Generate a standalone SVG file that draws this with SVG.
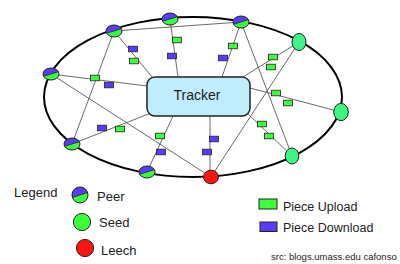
<svg xmlns="http://www.w3.org/2000/svg" xmlns:xlink="http://www.w3.org/1999/xlink" width="400" height="264" viewBox="0 0 400 264">
<style>
text{font-family:"Liberation Sans",Arial,sans-serif;fill:#222}
.ln{stroke:#444;stroke-width:0.8;fill:none}
.ring{fill:none;stroke:#000;stroke-width:2}
.up{fill:#3cff3c;stroke:#222;stroke-width:0.8}
.dn{fill:#5a3cff;stroke:#222;stroke-width:0.8}
.seed{fill:#3cf584;stroke:#222;stroke-width:1}
.leech{fill:#ff1414;stroke:#222;stroke-width:1}
.nd{stroke:#222;stroke-width:1}
</style>
<defs>
<g id="peer">
<ellipse rx="8" ry="6" fill="#3cff3c"/>
<path d="M-7.4 2.3 A8 6 0 0 1 7.4 -2.3 Z" fill="#5a3cff"/>
<line x1="-7.4" y1="2.3" x2="7.4" y2="-2.3" stroke="#222" stroke-width="0.8"/>
<ellipse rx="8" ry="6" fill="none" stroke="#222" stroke-width="1"/>
</g>
<g id="peerL">
<circle r="8" fill="#3cff3c"/>
<path d="M-7.6 2.5 A8 8 0 0 1 7.6 -2.5 Z" fill="#5a3cff"/>
<line x1="-7.6" y1="2.5" x2="7.6" y2="-2.5" stroke="#222" stroke-width="0.8"/>
<circle r="8" fill="none" stroke="#222" stroke-width="1"/>
</g>
<rect id="pc" x="-4.5" y="-2.8" width="9" height="5.6"/>
</defs>
<rect width="400" height="264" fill="#fff"/>
<ellipse class="ring" cx="193" cy="97" rx="149" ry="80"/>
<g id="connectors">
<line class="ln" x1="114" y1="31" x2="241" y2="22"/>
<line class="ln" x1="114" y1="31" x2="153" y2="78"/>
<line class="ln" x1="114" y1="31" x2="72" y2="144"/>
<line class="ln" x1="170" y1="19" x2="178" y2="77"/>
<line class="ln" x1="241" y1="22" x2="222" y2="77"/>
<line class="ln" x1="241" y1="22" x2="292" y2="156"/>
<line class="ln" x1="299" y1="42" x2="243" y2="77"/>
<line class="ln" x1="299" y1="42" x2="211" y2="177"/>
<line class="ln" x1="250" y1="88" x2="341" y2="112"/>
<line class="ln" x1="246" y1="112" x2="292" y2="156"/>
<line class="ln" x1="210" y1="116" x2="210" y2="177"/>
<line class="ln" x1="173" y1="116" x2="147" y2="172"/>
<line class="ln" x1="72" y1="144" x2="151" y2="113"/>
<line class="ln" x1="51" y1="74" x2="147" y2="86"/>
<line class="ln" x1="51" y1="74" x2="211" y2="177"/>
</g>
<g id="pieces">
<use xlink:href="#pc" class="up" x="134" y="61"/>
<use xlink:href="#pc" class="up" x="177" y="40"/>
<use xlink:href="#pc" class="up" x="95" y="78"/>
<use xlink:href="#pc" class="up" x="120" y="129"/>
<use xlink:href="#pc" class="up" x="233" y="46"/>
<use xlink:href="#pc" class="up" x="273" y="57"/>
<use xlink:href="#pc" class="up" x="271" y="67"/>
<use xlink:href="#pc" class="up" x="276" y="93"/>
<use xlink:href="#pc" class="up" x="288" y="103"/>
<use xlink:href="#pc" class="up" x="262" y="124"/>
<use xlink:href="#pc" class="up" x="269" y="136"/>
<use xlink:href="#pc" class="up" x="160" y="136"/>
<use xlink:href="#pc" class="dn" x="133" y="49"/>
<use xlink:href="#pc" class="dn" x="172" y="56"/>
<use xlink:href="#pc" class="dn" x="109" y="85"/>
<use xlink:href="#pc" class="dn" x="102" y="128"/>
<use xlink:href="#pc" class="dn" x="223" y="58"/>
<use xlink:href="#pc" class="dn" x="161" y="152"/>
<use xlink:href="#pc" class="dn" x="214" y="139"/>
<use xlink:href="#pc" class="dn" x="207" y="152"/>
</g>
<g id="tracker">
<rect x="147" y="77" width="103" height="39" rx="8" fill="#c0ecfc" stroke="#222" stroke-width="1.5"/>
<text x="197" y="100" font-size="14" text-anchor="middle">Tracker</text>
</g>
<g id="peer1"><use xlink:href="#peer" x="51" y="74"/></g>
<g id="peer2"><use xlink:href="#peer" x="114" y="31"/></g>
<g id="peer3"><use xlink:href="#peer" x="170" y="19"/></g>
<g id="peer4"><use xlink:href="#peer" x="241" y="22"/></g>
<g id="peer5"><use xlink:href="#peer" x="147" y="172"/></g>
<g id="peer6"><use xlink:href="#peer" x="72" y="144"/></g>
<g id="seed1"><ellipse class="seed" cx="299" cy="42" rx="7" ry="8.5"/></g>
<g id="seed2"><ellipse class="seed" cx="341" cy="112" rx="7.3" ry="8.6"/></g>
<g id="seed3"><ellipse class="seed" cx="292" cy="156" rx="6.8" ry="8"/></g>
<g id="leech"><ellipse class="leech" cx="211" cy="177" rx="7.5" ry="6.8"/></g>
<g id="legend">
<text x="14" y="197" font-size="13">Legend</text>
<use xlink:href="#peerL" x="80" y="195"/>
<text x="97" y="201" font-size="13">Peer</text>
<circle cx="82" cy="222" r="8.6" fill="#3cff3c" stroke="#222" stroke-width="1"/>
<text x="99" y="227" font-size="13">Seed</text>
<circle cx="85" cy="248" r="8.6" fill="#ff1414" stroke="#222" stroke-width="1"/>
<text x="101" y="255" font-size="13">Leech</text>
<rect x="259" y="199" width="18" height="10" fill="#3cff3c" stroke="#222" stroke-width="1"/>
<text x="283" y="211" font-size="12.5">Piece Upload</text>
<rect x="260" y="222" width="17" height="9.5" fill="#5a3cff" stroke="#222" stroke-width="1"/>
<text x="283" y="232" font-size="12.5">Piece Download</text>
<text x="271" y="260" font-size="9.5">src: blogs.umass.edu cafonso</text>
</g>
</svg>
